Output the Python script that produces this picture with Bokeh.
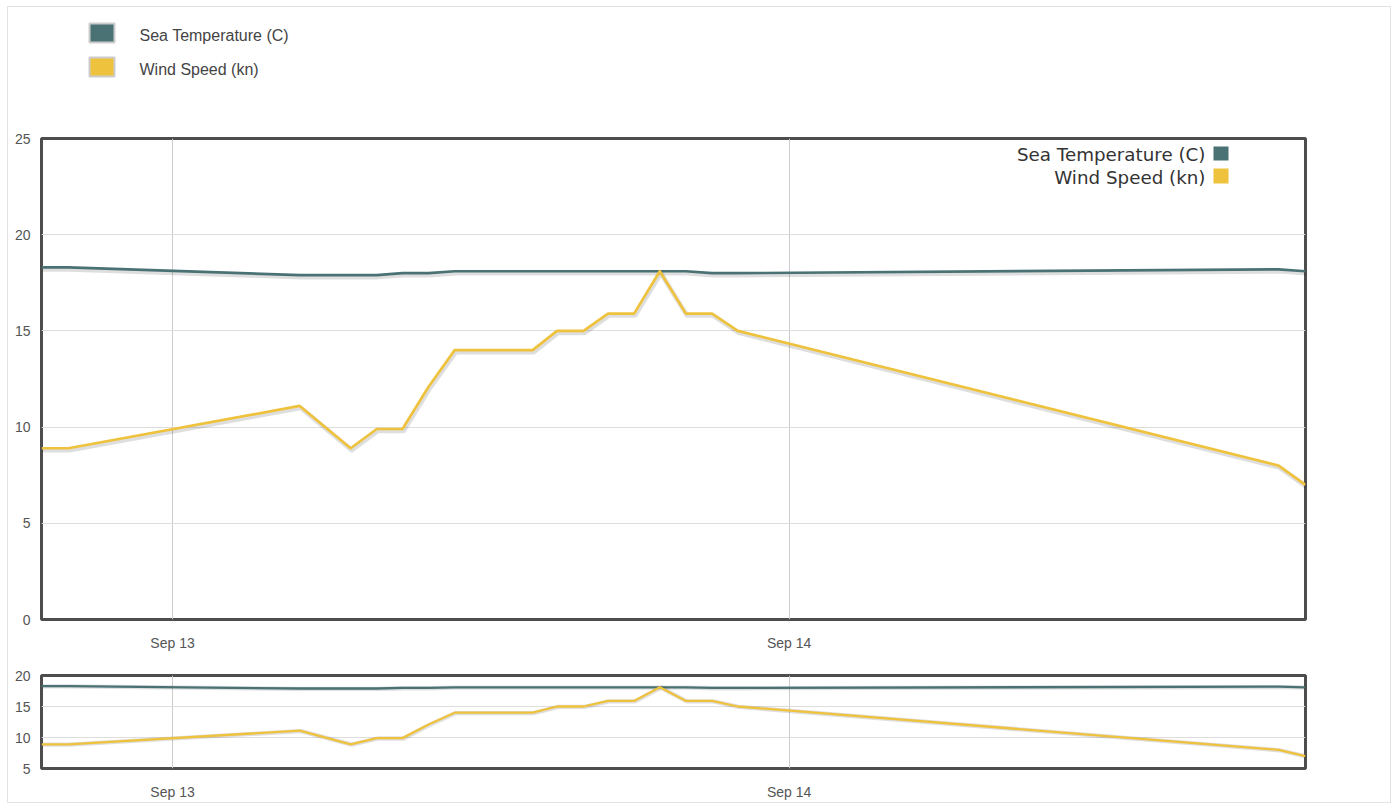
import pandas as pd
from bokeh.plotting import figure
from bokeh.models import (Range1d, DatetimeTickFormatter, DaysTicker, Label, BoxAnnotation,
                          SingleIntervalTicker, ColumnDataSource)
from bokeh.layouts import column
from bokeh.embed import file_html
from bokeh.resources import INLINE

# ---------------- data ----------------
times = ["2019-09-12 18:54", "2019-09-12 19:57", "2019-09-13 04:57", "2019-09-13 06:56",
         "2019-09-13 07:57", "2019-09-13 08:57", "2019-09-13 09:58", "2019-09-13 10:59",
         "2019-09-13 11:59", "2019-09-13 13:00", "2019-09-13 14:01", "2019-09-13 14:58",
         "2019-09-13 16:00", "2019-09-13 16:57", "2019-09-13 17:58", "2019-09-13 18:58",
         "2019-09-13 19:59", "2019-09-13 21:00", "2019-09-13 22:00", "2019-09-14 19:03",
         "2019-09-14 20:06"]
wind_speed = [8.9, 8.9, 11.1, 8.9, 9.9, 9.9, 12.1, 14.0, 14.0, 14.0, 14.0, 15.0,
              15.0, 15.9, 15.9, 18.1, 15.9, 15.9, 15.0, 8.0, 7.0]
sea_temp = [18.3, 18.3, 17.9, 17.9, 17.9, 18.0, 18.0, 18.1, 18.1, 18.1, 18.1, 18.1,
            18.1, 18.1, 18.1, 18.1, 18.1, 18.0, 18.0, 18.2, 18.1]
series_names = ["Sea Temperature (C)", "Wind Speed (kn)"]
series_colors = ["#4a7274", "#efc23e"]

t = pd.to_datetime(times)
src = ColumnDataSource(dict(t=t, wind=wind_speed, sea=sea_temp))

TICK_FONT = "Liberation Sans"
TICK_COLOR = "#555555"
BL, BR = 33, 85
SHIFT_X = pd.Timedelta(seconds=150)


def style_axes(p):
    for ax in (p.xaxis[0], p.yaxis[0]):
        ax.axis_line_color = None
        ax.major_tick_line_color = None
        ax.minor_tick_line_color = None
        ax.major_tick_out = 0
        ax.minor_tick_out = 0
        ax.major_label_text_font = TICK_FONT
        ax.major_label_text_font_size = "14px"
        ax.major_label_text_color = TICK_COLOR
    p.xaxis[0].ticker = DaysTicker(days=list(range(1, 32)))
    p.xaxis[0].formatter = DatetimeTickFormatter(days="%b %d", months="%b %d", hours="%b %d")
    p.xaxis[0].major_label_standoff = 15
    p.yaxis[0].major_label_standoff = 11
    p.xgrid.grid_line_color = "#cccccc"
    p.xgrid.ticker = p.xaxis[0].ticker
    p.ygrid.grid_line_color = "#dddddd"
    p.outline_line_color = "#4d4d4d"
    p.outline_line_width = 3


def add_lines(p, y0, y1, width):
    dy = (y1 - y0) * 0.004
    p.extra_x_ranges = {"sh": Range1d(start=t[0] - SHIFT_X, end=t[-1] - SHIFT_X)}
    p.extra_y_ranges = {"sh": Range1d(start=y0 + dy, end=y1 + dy)}
    for col, color in (("sea", series_colors[0]), ("wind", series_colors[1])):
        p.line("t", col, source=src, x_range_name="sh", y_range_name="sh",
               line_color="#000000", line_alpha=0.13, line_width=width + 2, line_join="round")
        p.line("t", col, source=src, line_color=color, line_width=width, line_join="round")


# ---------------- top legend ----------------
leg = figure(width=1382, height=113, x_range=Range1d(0, 1), y_range=Range1d(0, 1),
             x_axis_location=None, y_axis_location=None, output_backend="svg",
             toolbar_location=None, min_border_left=BL, min_border_top=0,
             min_border_right=BR, min_border_bottom=0)
leg.grid.visible = False
leg.outline_line_color = None
top_box = [(97, 78), (63, 44)]
top_text_y = [85, 51]
for name, color, (bt, bb), ty in zip(series_names, series_colors, top_box, top_text_y):
    leg.add_layout(BoxAnnotation(left=48, right=73, top=bt, bottom=bb,
                                 left_units="screen", right_units="screen",
                                 top_units="screen", bottom_units="screen",
                                 fill_color=color, fill_alpha=1,
                                 line_color="#cccccc", line_width=2, line_alpha=1))
    leg.add_layout(Label(x=98, y=ty, x_units="screen", y_units="screen", text=name,
                         text_align="left", text_baseline="middle", text_font=TICK_FONT,
                         text_font_size="16px", text_color="#444444"))

# ---------------- main chart ----------------
p = figure(width=1382, height=537, x_axis_type="datetime",
           x_range=Range1d(t[0], t[-1]), y_range=Range1d(0, 25),
           output_backend="svg", toolbar_location=None,
           min_border_left=BL, min_border_right=BR, min_border_top=18, min_border_bottom=38)
p.yaxis[0].ticker = SingleIntervalTicker(interval=5)
style_axes(p)
add_lines(p, 0, 25, 2.7)

leg_y = [465, 442]
box_y = [(473, 459), (451, 436)]
for name, color, ly, (bt, bb) in zip(series_names, series_colors, leg_y, box_y):
    p.add_layout(Label(x=1164, y=ly, x_units="screen", y_units="screen", text=name,
                       text_align="right", text_baseline="middle", text_font="DejaVu Sans",
                       text_font_size="18.3px", text_color="#333333"))
    p.add_layout(BoxAnnotation(left=1172, right=1187, top=bt, bottom=bb,
                               left_units="screen", right_units="screen",
                               top_units="screen", bottom_units="screen",
                               fill_color=color, fill_alpha=1, line_color=None))

# ---------------- navigator ----------------
nav = figure(width=1382, height=145, x_axis_type="datetime",
             x_range=Range1d(t[0], t[-1]), y_range=Range1d(5, 20),
             output_backend="svg", toolbar_location=None,
             min_border_left=BL, min_border_right=BR, min_border_top=18, min_border_bottom=33)
nav.yaxis[0].ticker = SingleIntervalTicker(interval=5)
style_axes(nav)
add_lines(nav, 5, 20, 2.3)

layout = column(leg, p, nav, spacing=0,
                styles={"border": "1px solid #e3e3e3", "margin": "6px 0 0 7px"})
open("out.html", "w").write(file_html(layout, INLINE))
